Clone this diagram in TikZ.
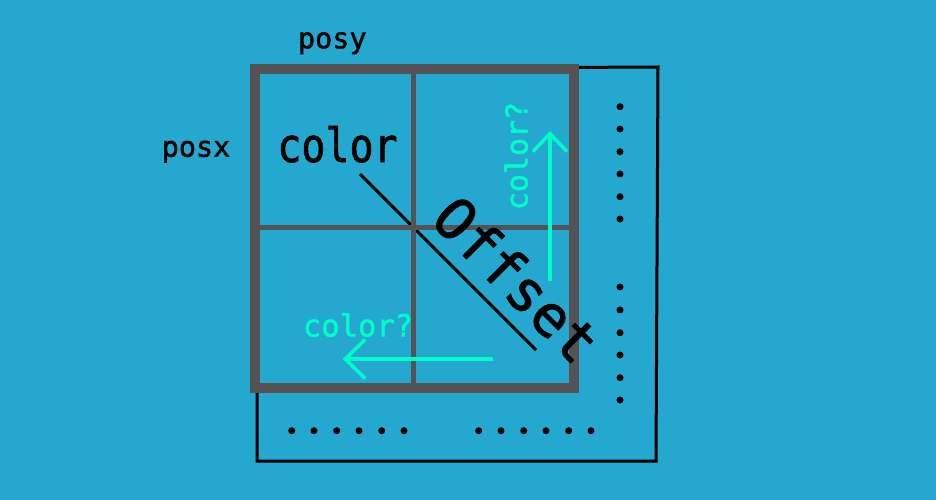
\documentclass[tikz,border=0pt]{standalone}
\usepackage{fontspec}
\setmonofont[FakeBold=1.5]{DejaVu Sans Mono}
\usetikzlibrary{arrows.meta}
\definecolor{bgblue}{RGB}{36,168,208}
\definecolor{gridgray}{RGB}{85,82,83}
\definecolor{aqua}{RGB}{0,255,200}
\tikzset{
  lbl/.style={inner sep=0pt, anchor=base, font=\ttfamily\fontsize{#1}{#1}\selectfont},
  gridline/.style={draw=gridgray, line width=4.5pt},
  gridframe/.style={draw=gridgray, line width=10pt, line join=miter},
  outline/.style={draw=black, line width=3pt},
  aquaarrow/.style={draw=aqua, line width=3.5pt},
  dotmark/.style={fill=black, circle, inner sep=0pt, minimum size=7pt},
}
\begin{document}
\begin{tikzpicture}[x=1pt,y=-1pt]
\fill[bgblue] (0,0) rectangle (936,500);
\useasboundingbox (0,0) rectangle (936,500);
% outer black outline
\draw[outline] (257,69) -- (658,67) -- (656,461) -- (257,461) -- cycle;
% diagonal line
\coordinate (d1) at (360,174);
\coordinate (d2) at (536,350);
\draw[black, line width=3pt] (d1) -- (d2);
% grid
\draw[gridline] (413.7,69) -- (413.7,387.5);
\draw[gridline] (255,227.7) -- (574,227.7);
\draw[gridframe] (255,69) rectangle (574,387.5);
% labels
\node[lbl=28.5] (posy) at (332.3,48.3) {posy};
\node[lbl=28.5] (posx) at (196,156.7) {posx};
\node[lbl=40] (col) at (337.5,162) {\scalebox{1}[1.18]{color}};
\node[lbl=57, rotate=-45] (off) at (501.8,294.2) {Offset};
\node[lbl=30.5, text=aqua] (colh) at (358,336.5) {color?};
\node[lbl=30, text=aqua, rotate=90] (colv) at (527.5,156) {color?};
% arrows
\coordinate (ha) at (492.7,359);
\coordinate (hb) at (342.7,359);
\draw[aquaarrow, -{Straight Barb[length=20pt,width=39pt,line width=3.5pt]}] (ha) -- (hb);
\coordinate (va) at (550,280.7);
\coordinate (vb) at (550,131);
\draw[aquaarrow, -{Straight Barb[length=18pt,width=34pt,line width=3.5pt]}] (va) -- (vb);
% dots
\foreach \i/\y in {1/106.7,2/129,3/151.7,4/174,5/196.7,6/219,7/287,8/310,9/332.7,10/355,11/377.7,12/400}
  \node[dotmark] (rd\i) at (620,\y) {};
\foreach \i/\x in {1/291.7,2/314,3/336.7,4/359,5/381.7,6/404,7/478.7,8/501,9/523.7,10/546,11/568.7,12/591}
  \node[dotmark] (bd\i) at (\x,430.7) {};
\end{tikzpicture}
\end{document}
